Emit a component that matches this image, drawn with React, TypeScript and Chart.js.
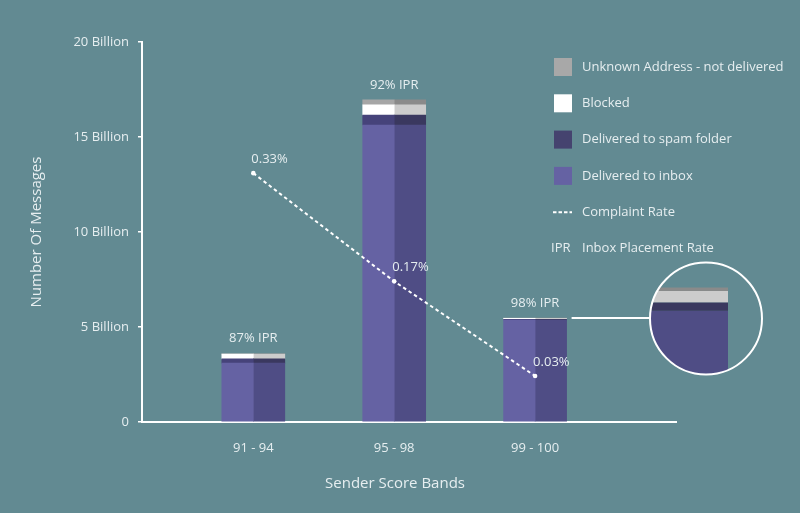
import React, { useEffect, useRef } from 'react';
import { Chart, registerables } from 'chart.js';

Chart.register(...registerables);

// ---- data (values in billions of messages) ----
const categories = ['91 - 94', '95 - 98', '99 - 100'];
const categoryX = [1, 2, 3];
const inbox = [3.1, 15.63, 5.37];
const spam = [0.22, 0.53, 0.037];
const blocked = [0.25, 0.53, 0.05];
const unknown = [0.02, 0.26, 0.015];
const iprPct = [87, 92, 98];
const complaintRate = [0.33, 0.17, 0.03];
const yTicks = [0, 5, 10, 15, 20];
const legendLabels = [
  'Unknown Address - not delivered',
  'Blocked',
  'Delivered to spam folder',
  'Delivered to inbox',
  'Complaint Rate',
  'Inbox Placement Rate',
];

const BG = '#628a92';
const TEXT = '#e6eef0';
const FONT = "'Open Sans', 'Noto Sans', sans-serif";

const segments = [
  { label: 'Delivered to inbox', data: inbox, colors: ['#6562a3', '#4f4d85'], swatch: '#6562a3' },
  { label: 'Delivered to spam folder', data: spam, colors: ['#46437a', '#3a385f'], swatch: '#45436f' },
  { label: 'Blocked', data: blocked, colors: ['#ffffff', '#cccccc'], swatch: '#ffffff' },
  { label: 'Unknown Address - not delivered', data: unknown, colors: ['#a6a6a6', '#8a8a8a'], swatch: '#a8a8a8' },
];

const totals = categoryX.map((_, i) => inbox[i] + spam[i] + blocked[i] + unknown[i]);

const overlayPlugin = {
  id: 'overlay',
  afterDraw(chart: any) {
    const ctx = chart.ctx;
    const xs = chart.scales.x;
    const ys = chart.scales.y;
    const area = chart.chartArea;
    ctx.save();
    ctx.fillStyle = TEXT;
    ctx.font = `13px ${FONT}`;

    // IPR labels above bars
    ctx.textAlign = 'center';
    ctx.textBaseline = 'middle';
    categoryX.forEach((xv, i) => {
      const x = xs.getPixelForValue(xv);
      const y = ys.getPixelForValue(totals[i]) - 15;
      ctx.fillText(`${iprPct[i]}% IPR`, x, y);
    });

    // complaint rate labels
    const lineIdx = chart.data.datasets.length - 1;
    const meta = chart.getDatasetMeta(lineIdx);
    ctx.textAlign = 'left';
    meta.data.forEach((pt: any, i: number) => {
      ctx.fillText(`${complaintRate[i].toFixed(2)}%`, pt.x - 2, pt.y - 14);
    });

    // axis titles
    ctx.font = `15px ${FONT}`;
    ctx.textAlign = 'center';
    ctx.fillText('Sender Score Bands', 395, 484);
    ctx.save();
    ctx.translate(37, 232);
    ctx.rotate(-Math.PI / 2);
    ctx.fillText('Number Of Messages', 0, 0);
    ctx.restore();

    // legend
    ctx.font = `13px ${FONT}`;
    const lx = 554;
    const ly0 = 67;
    const step = 36.3;
    const swatchOrder = [3, 2, 1, 0];
    swatchOrder.forEach((si, k) => {
      const cy = ly0 + k * step;
      ctx.fillStyle = segments[si].swatch;
      ctx.fillRect(lx, cy - 9, 18, 18);
    });
    ctx.fillStyle = TEXT;
    ctx.textAlign = 'left';
    legendLabels.forEach((t, k) => {
      ctx.fillText(t, lx + 28, ly0 + k * step);
    });
    // dash swatch
    ctx.strokeStyle = '#ffffff';
    ctx.lineWidth = 2;
    ctx.setLineDash([3.5, 2]);
    ctx.beginPath();
    ctx.moveTo(lx - 1, ly0 + 4 * step);
    ctx.lineTo(lx + 18, ly0 + 4 * step);
    ctx.stroke();
    ctx.setLineDash([]);
    ctx.fillText('IPR', lx - 3, ly0 + 5 * step);

    // magnifier for the last bar
    const bi = 2;
    const barTop = ys.getPixelForValue(totals[bi]);
    const barRight = xs.getPixelForValue(categoryX[bi]) + 31.5;
    const r = 56;
    const cx = area.right + 30;
    const cy = barTop + 0.5;
    ctx.strokeStyle = '#ffffff';
    ctx.lineWidth = 2;
    ctx.beginPath();
    ctx.moveTo(barRight + 5, barTop);
    ctx.lineTo(cx - r, barTop);
    ctx.stroke();

    const mag = 12;
    const topY = cy - 31;
    const yMag = (v: number) => topY + (ys.getPixelForValue(v) - ys.getPixelForValue(totals[bi])) * mag;
    ctx.save();
    ctx.beginPath();
    ctx.arc(cx, cy, r, 0, Math.PI * 2);
    ctx.clip();
    const left = cx - r - 5;
    const right = cx + 22;
    let cum = 0;
    segments.forEach((s, k) => {
      const lo = cum;
      cum += s.data[bi];
      const yTop = yMag(cum);
      const yBot = k === 0 ? cy + r + 5 : yMag(lo);
      ctx.fillStyle = s.colors[1];
      ctx.fillRect(left, yTop, right - left, yBot - yTop);
    });
    ctx.restore();
    ctx.beginPath();
    ctx.arc(cx, cy, r, 0, Math.PI * 2);
    ctx.stroke();

    ctx.restore();
  },
};

export default function App() {
  const ref = useRef<HTMLCanvasElement | null>(null);
  useEffect(() => {
    if (!ref.current) return;
    const barSets: any[] = [];
    segments.forEach((s) => {
      ['L', 'R'].forEach((st, k) => {
        barSets.push({
          type: 'bar',
          label: s.label,
          data: categoryX.map((x, i) => ({ x, y: s.data[i] })),
          backgroundColor: s.colors[k],
          borderWidth: 0,
          stack: st,
          barThickness: 31.5,
          yAxisID: 'y',
          xAxisID: 'x',
          order: 1,
        });
      });
    });
    const lineSet = {
      type: 'line',
      label: 'Complaint Rate',
      data: categoryX.map((x, i) => ({ x, y: complaintRate[i] })),
      yAxisID: 'yRate',
      xAxisID: 'x',
      borderColor: '#ffffff',
      borderWidth: 2,
      borderDash: [3.5, 3],
      pointRadius: 2.3,
      pointBackgroundColor: '#ffffff',
      pointBorderWidth: 0,
      fill: false,
      order: 0,
    };
    const chart = new Chart(ref.current, {
      type: 'bar',
      data: { datasets: [...barSets, lineSet] as any },
      options: {
        animation: false,
        responsive: true,
        maintainAspectRatio: false,
        layout: { padding: { top: 42, right: 124, left: 0, bottom: 0 } },
        plugins: { legend: { display: false }, tooltip: { enabled: false } },
        scales: {
          x: {
            type: 'linear',
            min: 0.21,
            max: 4,
            offset: false,
            stacked: true,
            afterBuildTicks: (s: any) => {
              s.ticks = categoryX.map((v) => ({ value: v }));
            },
            afterFit: (s: any) => {
              s.height = 91;
            },
            grid: { display: false, offset: false },
            border: { display: true, color: '#ffffff', width: 2 },
            ticks: {
              color: TEXT,
              font: { family: FONT, size: 13 },
              padding: 10,
              maxRotation: 0,
              callback: (v: any) => {
                const i = categoryX.indexOf(Number(v));
                return i >= 0 ? categories[i] : '';
              },
            },
          },
          y: {
            type: 'linear',
            min: 0,
            max: 20,
            stacked: true,
            afterBuildTicks: (s: any) => {
              s.ticks = yTicks.map((v) => ({ value: v }));
            },
            afterFit: (s: any) => {
              s.width = 142;
            },
            grid: { drawOnChartArea: false, drawTicks: true, tickLength: 4, color: '#ffffff', lineWidth: 1.5 },
            border: { display: true, color: '#ffffff', width: 2 },
            ticks: {
              color: TEXT,
              font: { family: FONT, size: 13 },
              padding: 9,
              callback: (v: any) => (Number(v) === 0 ? '0' : `${v} Billion`),
            },
          },
          yRate: {
            type: 'linear',
            display: false,
            min: -0.038,
            max: 0.524,
          },
        },
      } as any,
      plugins: [overlayPlugin],
    });
    return () => chart.destroy();
  }, []);

  return (
    <div style={{ position: 'fixed', left: 0, top: 0, width: 800, height: 513, background: BG }}>
      <canvas ref={ref} />
    </div>
  );
}
